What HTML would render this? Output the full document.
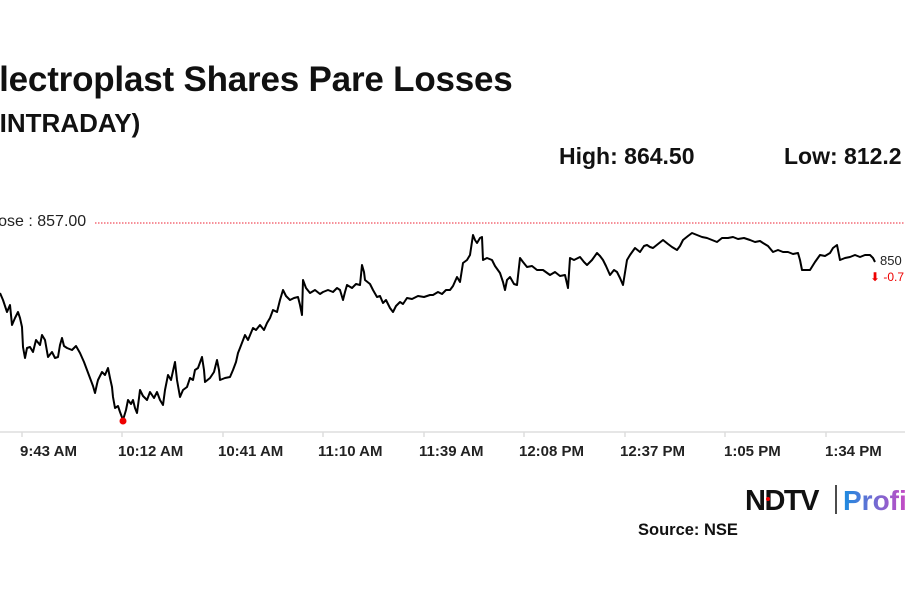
<!DOCTYPE html>
<html><head><style>
body{margin:0;width:905px;height:613px;background:#fff;overflow:hidden;font-family:"Liberation Sans",Arial,sans-serif;position:relative}
.t{position:absolute;white-space:nowrap;color:#111}
</style></head><body>
<div class="t" style="left:-24px;top:60px;font-size:35px;font-weight:bold;letter-spacing:-0.2px">Electroplast Shares Pare Losses</div>
<div class="t" style="left:-9px;top:108px;font-size:26px;font-weight:bold">(INTRADAY)</div>
<div class="t" style="left:559px;top:143px;font-size:23px;font-weight:bold">High: 864.50</div>
<div class="t" style="left:784px;top:143px;font-size:23px;font-weight:bold">Low: 812.2</div>
<div class="t" style="left:-17px;top:213px;font-size:16px;color:#222">Close : 857.00</div>
<svg width="905" height="613" style="position:absolute;left:0;top:0">
<line x1="95" y1="223" x2="905" y2="223" stroke="#e23" stroke-width="1" stroke-dasharray="1.5,1.5"/>
<line x1="0" y1="432" x2="905" y2="432" stroke="#ddd" stroke-width="1.5"/>
<g stroke="#ddd" stroke-width="1.5">
<line x1="22" y1="432" x2="22" y2="437"/><line x1="122" y1="432" x2="122" y2="437"/><line x1="223" y1="432" x2="223" y2="437"/><line x1="323" y1="432" x2="323" y2="437"/><line x1="424" y1="432" x2="424" y2="437"/><line x1="524" y1="432" x2="524" y2="437"/><line x1="625" y1="432" x2="625" y2="437"/><line x1="725" y1="432" x2="725" y2="437"/><line x1="826" y1="432" x2="826" y2="437"/>
</g>
<polyline fill="none" stroke="#000" stroke-width="2" stroke-linejoin="round" points="0,293 3,300 7,312 10,305 12,325 15,318 18,312 20,318 22,327 23,347 25,358 27,348 30,347 33,352 36,340 40,345 42,335 45,340 48,357 52,352 55,358 58,357 60,345 62,338 64,346 67,348 72,350 76,346 80,353 84,362 87,370 90,378 93,386 95,393 97,384 98,380 102,372 105,375 108,368 110,378 112,387 113,397 115,408 118,406 120,412 123,420 126,410 128,400 131,404 133,400 135,408 137,413 139,398 140,390 143,396 147,400 150,392 154,398 157,392 160,400 163,405 165,390 168,375 171,380 175,362 177,380 180,397 183,390 187,387 190,378 193,380 195,370 198,368 202,357 204,370 205,382 210,378 214,372 217,360 219,370 220,380 225,378 230,377 233,370 236,362 238,353 240,348 245,335 248,340 253,328 256,330 260,325 264,330 267,323 270,318 273,310 277,312 280,300 283,290 286,296 290,300 294,298 298,297 300,305 302,315 303,280 306,288 310,293 315,290 320,294 323,292 328,290 333,292 337,288 340,290 343,300 345,292 347,285 352,288 356,284 360,285 362,265 364,272 365,280 370,284 373,290 377,297 380,296 383,303 386,300 390,308 393,312 396,306 400,302 403,304 407,298 412,299 418,296 424,297 430,295 433,295 438,292 442,294 446,290 450,290 453,286 457,277 460,282 463,263 467,260 470,255 473,235 475,240 477,243 480,238 482,237 483,260 487,258 492,260 495,266 500,273 503,282 505,290 507,280 510,277 514,284 517,285 520,258 523,262 527,267 532,266 537,270 543,270 550,275 555,272 560,276 565,275 568,288 570,258 574,260 580,257 584,262 587,265 592,260 597,253 600,256 603,260 606,266 610,275 614,270 617,272 620,278 623,285 627,260 630,255 635,248 640,252 644,246 647,245 650,247 653,248 658,244 663,240 668,244 672,247 677,250 680,246 683,240 688,236 692,233 697,235 702,237 707,238 712,240 717,242 722,238 728,238 733,237 738,239 744,238 750,240 755,242 760,241 763,243 768,246 773,252 778,250 783,252 788,252 793,254 798,253 800,260 802,270 806,270 810,270 815,262 820,255 825,256 830,253 833,248 837,245 840,260 845,258 850,257 855,255 860,257 865,255 870,255 873,258 875,262"/>
<circle cx="123" cy="421" r="3.5" fill="#e00"/>
<text x="880" y="265" font-size="13" font-family="Liberation Sans" fill="#222">850</text>
<text x="870" y="281" font-size="12" font-family="Liberation Sans" fill="#e00">⬇ -0.7</text>
<g font-family="Liberation Sans" font-size="15" fill="#222" style="font-weight:600">
<text x="20" y="456">9:43 AM</text><text x="118" y="456">10:12 AM</text><text x="218" y="456">10:41 AM</text><text x="318" y="456">11:10 AM</text><text x="419" y="456">11:39 AM</text><text x="519" y="456">12:08 PM</text><text x="620" y="456">12:37 PM</text><text x="724" y="456">1:05 PM</text><text x="825" y="456">1:34 PM</text>
</g>
<defs><linearGradient id="g" x1="0" x2="1"><stop offset="0" stop-color="#1c8ce0"/><stop offset="1" stop-color="#e040c0"/></linearGradient></defs>
<text x="745" y="510" font-size="29" font-weight="900" font-family="Liberation Sans" fill="#111" letter-spacing="-1.5">NDTV</text>
<circle cx="768" cy="499" r="2" fill="#e00"/>
<line x1="836" y1="485" x2="836" y2="514" stroke="#111" stroke-width="1.5"/>
<text x="843" y="510" font-size="28" font-weight="bold" font-family="Liberation Sans" fill="url(#g)">Profit</text>
<text x="638" y="535" font-size="16.5" font-weight="bold" font-family="Liberation Sans" fill="#111">Source: NSE</text>
</svg>
</body></html>
